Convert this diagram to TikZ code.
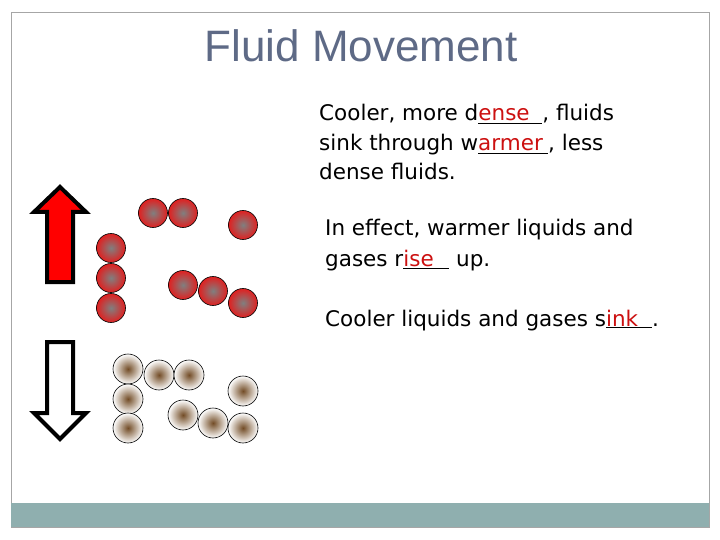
\documentclass[tikz,border=0pt]{standalone}
\usepackage{fontspec}
\setmainfont{DejaVu Sans}
\newfontfamily\titlefont{Liberation Sans}
\definecolor{tcol}{HTML}{5E6A86}
\definecolor{barcol}{HTML}{8FAFAF}
\definecolor{redc}{HTML}{E02020}
\definecolor{ansc}{HTML}{CC1010}
\newcommand{\blk}[2]{\underline{\makebox[#1][l]{\color{ansc}#2}}}
\begin{document}
\begin{tikzpicture}[x=1pt,y=-1pt,
  txt/.style={anchor=base west,inner sep=0pt,font=\fontsize{21.5}{24}\selectfont},
  hot/.style={circle,draw=black,line width=0.6pt,minimum size=29pt,inner sep=0pt,inner color=gray,outer color=redc},
  cold/.style={circle,draw=black,line width=0.6pt,minimum size=30pt,inner sep=0pt,inner color={brown!60!black},outer color=white},
  arr/.style={draw=black,line width=4pt,line join=miter}]
\useasboundingbox (0,0) rectangle (720,540);
\draw[gray!70,line width=0.8pt] (11,12) rectangle (709,527);
\fill[barcol] (11,503) rectangle (709,527);
\node[font=\titlefont\fontsize{44}{46}\selectfont,text=tcol] (title) at (361,46) {Fluid Movement};
\node[txt] (l1) at (319,121) {Cooler, more d\blk{64pt}{ense}, fluids};
\node[txt] (l2) at (319,151) {sink through w\blk{70pt}{armer}, less};
\node[txt] (l3) at (319,180) {dense fluids.};
\node[txt] (l4) at (325,236) {In effect, warmer liquids and};
\node[txt] (l5) at (325,266) {gases r\blk{46pt}{ise} up.};
\node[txt] (l6) at (325,326) {Cooler liquids and gases s\blk{46pt}{ink}.};
\foreach \n/\x/\y in {a/153/213,b/183/213,c/243/225,d/111/248,e/111/278,f/111/308,g/183/285,h/213/291,i/243/303}
  \node[hot] (h\n) at (\x,\y) {};
\foreach \n/\x/\y in {a/128/369,b/159/375,c/189/375,d/243/391,e/128/399,f/128/428,g/183/415,h/213/423,i/243/428}
  \node[cold] (c\n) at (\x,\y) {};
\draw[arr,fill=red] (60,187)--(86,212)--(73,212)--(73,282)--(47,282)--(47,212)--(34,212)--cycle;
\draw[arr,fill=white] (60,439)--(86,413)--(73,413)--(73,342)--(47,342)--(47,413)--(34,413)--cycle;
\end{tikzpicture}
\end{document}
